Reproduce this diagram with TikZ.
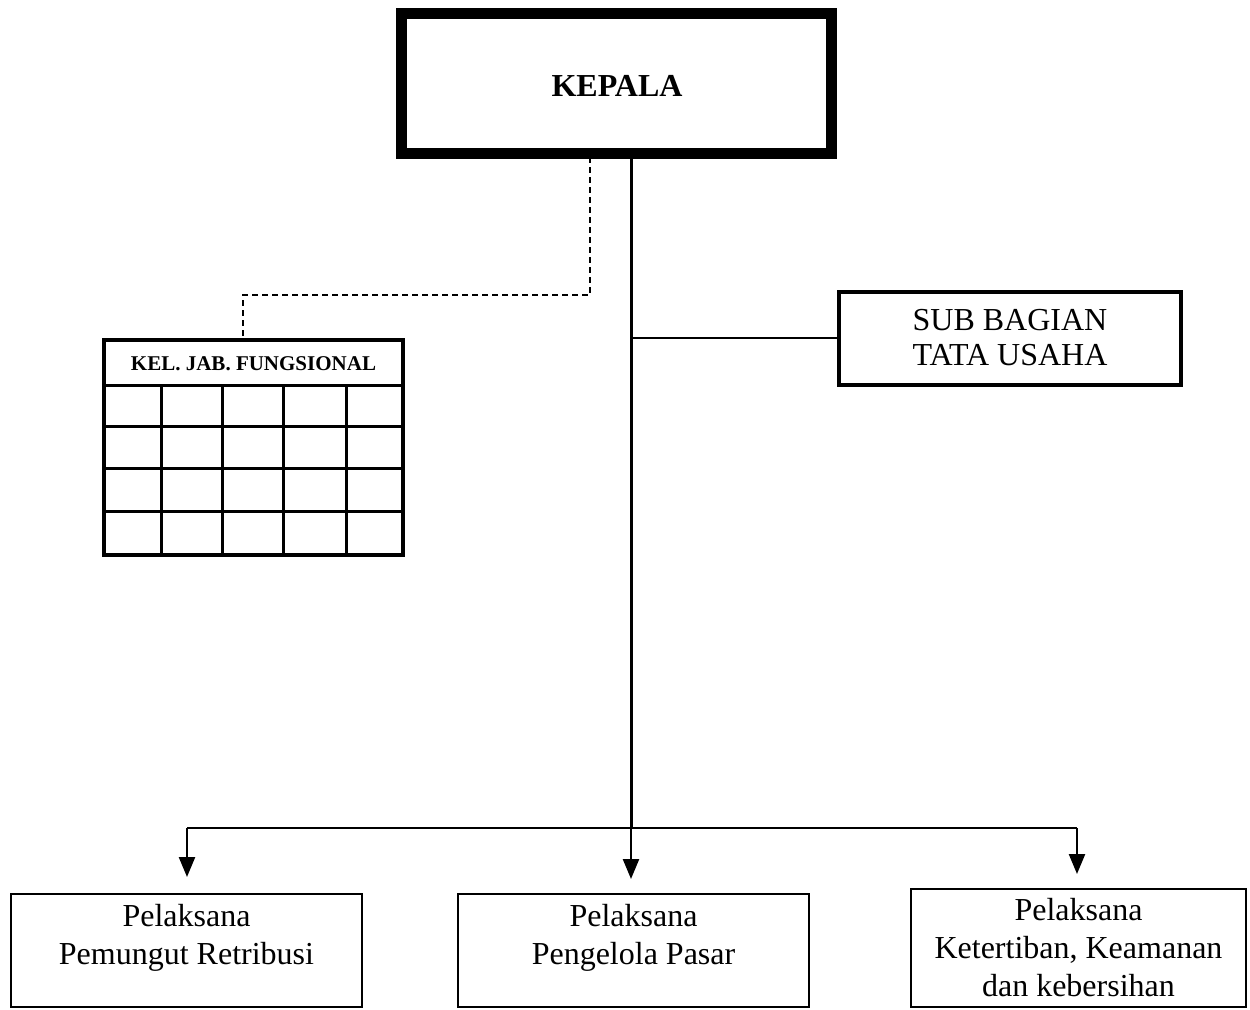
\documentclass[tikz,border=0pt]{standalone}
\usepackage{fontspec}
\setmainfont{Liberation Serif}
\usetikzlibrary{arrows.meta}
\begin{document}
\begin{tikzpicture}[x=0.5pt,y=-0.5pt,
  headbox/.style={draw, line width=5.5pt, inner sep=0pt, minimum width=215pt, minimum height=70pt},
  subbox/.style={draw, line width=2pt, inner sep=0pt, minimum width=171pt, minimum height=46.5pt, align=center, font=\fontsize{16}{17.5}\selectfont},
  unitbox/.style={draw, line width=1pt, inner sep=0pt},
  unittext/.style={inner sep=0pt, align=center, anchor=north, font=\fontsize{16}{19}\selectfont},
  tablebox/.style={draw, line width=2pt, inner sep=0pt, minimum width=149.5pt, minimum height=107.5pt},
  gridline/.style={line width=1.5pt},
  trunkline/.style={line width=1.5pt},
  busline/.style={line width=1.2pt},
  arr/.style={line width=1.2pt, -{Triangle[width=8pt,length=10pt]}},
  dashline/.style={line width=1pt, dash pattern=on 3pt off 2pt}]
\useasboundingbox (0,0) rectangle (1250,1009);

% head
\node[headbox] (kepala) at (616,83) {};
\node[inner sep=0pt, font=\fontsize{16}{19}\selectfont\bfseries] (kepalat) at (617,86) {KEPALA};

% sub bagian
\node[subbox] (sub) at (1010,338) {SUB BAGIAN\\TATA USAHA};

% table
\node[tablebox] (kel) at (253.5,447.5) {};
\node[inner sep=0pt, font=\fontsize{10.5}{12}\selectfont\bfseries] (kelt) at (253.5,364) {KEL. JAB. FUNGSIONAL};
\foreach \yy in {385,426,468,511} {\draw[gridline] (104,\yy) -- (403,\yy);}
\foreach \xx in {161,222,283,346} {\draw[gridline] (\xx,385) -- (\xx,555);}

% bottom boxes
\node[unitbox, minimum width=175.5pt, minimum height=56.5pt] (b1) at (186.5,950.5) {};
\node[unitbox, minimum width=175.5pt, minimum height=56.5pt] (b2) at (633.5,950.5) {};
\node[unitbox, minimum width=167.5pt, minimum height=59pt] (b3) at (1078.5,948) {};
\node[unittext] (b1t) at ([yshift=-5.5pt]b1.north) {Pelaksana\\Pemungut Retribusi};
\node[unittext] (b2t) at ([yshift=-5.5pt]b2.north) {Pelaksana\\Pengelola Pasar};
\node[unittext] (b3t) at ([yshift=-5pt]b3.north) {Pelaksana\\Ketertiban, Keamanan\\dan kebersihan};

% connectors
\coordinate (trunktop) at (631,152);
\coordinate (bus1) at (187,828);
\coordinate (bus2) at (631,828);
\coordinate (bus3) at (1077,828);
\draw[trunkline] (trunktop) -- (bus2);
\draw[busline] (trunktop |- sub.west) -- (sub.west);
\draw[busline] (bus1) -- (bus3);
\draw[arr, shorten >=8pt] (bus1) -- (bus1 |- b1.north);
\draw[arr, shorten >=7pt] (bus2) -- (bus2 |- b2.north);
\draw[arr, shorten >=7pt] (bus3) -- (bus3 |- b3.north);

% dashed
\coordinate (dtop) at (590,157);
\coordinate (dend) at (243,339);
\draw[dashline] (dtop) |- (243,295) -- (dend);
\end{tikzpicture}
\end{document}
